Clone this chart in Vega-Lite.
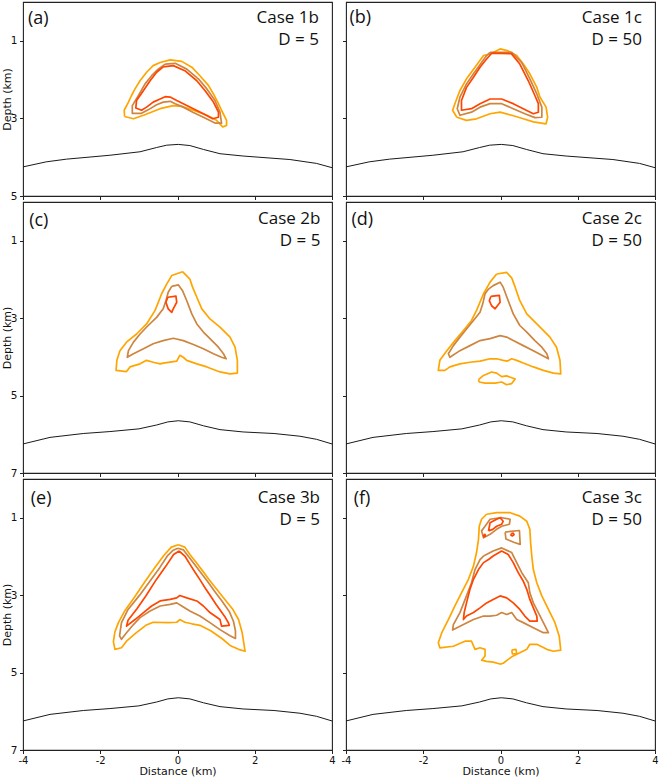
{
  "$schema": "https://vega.github.io/schema/vega-lite/v6.json",
  "padding": {"left": 0, "top": 1, "right": 2, "bottom": 0},
  "background": "white",
  "config": {
    "view": {"stroke": "#222222", "strokeWidth": 1.1},
    "axis": {"domain": false, "grid": false, "ticks": true, "tickColor": "#222222", "tickSize": 3.5, "tickWidth": 1, "labelFont": "DejaVu Sans", "labelFontSize": 10.5, "labelColor": "#111111", "labelPadding": 2.5, "labelFlush": false, "labelOverlap": false, "titleFont": "DejaVu Sans", "titleFontSize": 11, "titleFontWeight": "normal", "titleColor": "#111111"}
  },
  "datasets": {
    "surf1": [
      {"x": -4, "d": 4.25}, {"x": -3.4, "d": 4.12}, {"x": -2.87, "d": 4.05}, {"x": -1.75, "d": 3.95}, {"x": -0.97, "d": 3.86}, {"x": -0.54, "d": 3.75}, {"x": -0.28, "d": 3.69}, {"x": 0.02, "d": 3.67}, {"x": 0.32, "d": 3.70}, {"x": 0.67, "d": 3.80}, {"x": 1.10, "d": 3.91}, {"x": 1.70, "d": 3.97}, {"x": 2.91, "d": 4.06}, {"x": 3.60, "d": 4.16}, {"x": 4, "d": 4.27}
    ],
    "surf2": [
      {"x": -4, "d": 6.25}, {"x": -3.3, "d": 6.08}, {"x": -2.44, "d": 5.98}, {"x": -1.75, "d": 5.93}, {"x": -1.0, "d": 5.86}, {"x": -0.54, "d": 5.76}, {"x": -0.25, "d": 5.68}, {"x": 0.02, "d": 5.65}, {"x": 0.32, "d": 5.68}, {"x": 0.67, "d": 5.78}, {"x": 1.10, "d": 5.88}, {"x": 1.70, "d": 5.94}, {"x": 2.5, "d": 5.98}, {"x": 3.17, "d": 6.05}, {"x": 3.6, "d": 6.13}, {"x": 4, "d": 6.25}
    ],
    "a": [
      {"r":1,"c":"c1","x":-1.37,"d":2.95},{"r":1,"c":"c1","x":-1.14,"d":3.01},{"r":1,"c":"c1","x":-0.88,"d":2.92},{"r":1,"c":"c1","x":-0.45,"d":2.75},{"r":1,"c":"c1","x":-0.11,"d":2.67},{"r":1,"c":"c1","x":0.11,"d":2.69},{"r":1,"c":"c1","x":0.41,"d":2.79},{"r":1,"c":"c1","x":0.76,"d":2.92},{"r":1,"c":"c1","x":1.01,"d":3.05},{"r":1,"c":"c1","x":1.17,"d":3.22},{"r":1,"c":"c1","x":1.27,"d":3.18},{"r":1,"c":"c1","x":1.27,"d":3.05},{"r":1,"c":"c1","x":1.14,"d":2.79},{"r":1,"c":"c1","x":1.06,"d":2.62},{"r":1,"c":"c1","x":0.93,"d":2.37},{"r":1,"c":"c1","x":0.80,"d":2.15},{"r":1,"c":"c1","x":0.58,"d":1.90},{"r":1,"c":"c1","x":0.37,"d":1.68},{"r":1,"c":"c1","x":0.11,"d":1.53},{"r":1,"c":"c1","x":-0.19,"d":1.49},{"r":1,"c":"c1","x":-0.45,"d":1.56},{"r":1,"c":"c1","x":-0.63,"d":1.64},{"r":1,"c":"c1","x":-0.80,"d":1.81},{"r":1,"c":"c1","x":-0.97,"d":2.03},{"r":1,"c":"c1","x":-1.10,"d":2.24},{"r":1,"c":"c1","x":-1.19,"d":2.41},{"r":1,"c":"c1","x":-1.27,"d":2.58},{"r":1,"c":"c1","x":-1.38,"d":2.79},{"r":1,"c":"c1","x":-1.37,"d":2.95},
      {"r":2,"c":"c2","x":-0.32,"d":1.60},{"r":2,"c":"c2","x":-0.06,"d":1.58},{"r":2,"c":"c2","x":0.24,"d":1.73},{"r":2,"c":"c2","x":0.54,"d":1.98},{"r":2,"c":"c2","x":0.76,"d":2.24},{"r":2,"c":"c2","x":0.97,"d":2.54},{"r":2,"c":"c2","x":1.10,"d":2.84},{"r":2,"c":"c2","x":1.14,"d":3.12},{"r":2,"c":"c2","x":0.97,"d":3.12},{"r":2,"c":"c2","x":0.67,"d":2.97},{"r":2,"c":"c2","x":0.41,"d":2.85},{"r":2,"c":"c2","x":0.15,"d":2.71},{"r":2,"c":"c2","x":-0.06,"d":2.62},{"r":2,"c":"c2","x":-0.19,"d":2.56},{"r":2,"c":"c2","x":-0.37,"d":2.58},{"r":2,"c":"c2","x":-0.54,"d":2.65},{"r":2,"c":"c2","x":-0.76,"d":2.78},{"r":2,"c":"c2","x":-0.93,"d":2.87},{"r":2,"c":"c2","x":-1.17,"d":2.87},{"r":2,"c":"c2","x":-1.17,"d":2.67},{"r":2,"c":"c2","x":-1.01,"d":2.41},{"r":2,"c":"c2","x":-0.84,"d":2.11},{"r":2,"c":"c2","x":-0.67,"d":1.90},{"r":2,"c":"c2","x":-0.50,"d":1.73},{"r":2,"c":"c2","x":-0.32,"d":1.60},
      {"r":3,"c":"c3","x":-0.37,"d":1.67},{"r":3,"c":"c3","x":-0.11,"d":1.64},{"r":3,"c":"c3","x":0.19,"d":1.77},{"r":3,"c":"c3","x":0.50,"d":2.03},{"r":3,"c":"c3","x":0.71,"d":2.28},{"r":3,"c":"c3","x":0.93,"d":2.58},{"r":3,"c":"c3","x":1.06,"d":2.84},{"r":3,"c":"c3","x":1.06,"d":2.97},{"r":3,"c":"c3","x":0.91,"d":3.01},{"r":3,"c":"c3","x":0.67,"d":2.88},{"r":3,"c":"c3","x":0.41,"d":2.75},{"r":3,"c":"c3","x":0.15,"d":2.62},{"r":3,"c":"c3","x":-0.02,"d":2.54},{"r":3,"c":"c3","x":-0.19,"d":2.45},{"r":3,"c":"c3","x":-0.32,"d":2.44},{"r":3,"c":"c3","x":-0.45,"d":2.50},{"r":3,"c":"c3","x":-0.63,"d":2.58},{"r":3,"c":"c3","x":-0.80,"d":2.71},{"r":3,"c":"c3","x":-0.93,"d":2.79},{"r":3,"c":"c3","x":-1.08,"d":2.73},{"r":3,"c":"c3","x":-1.06,"d":2.54},{"r":3,"c":"c3","x":-0.88,"d":2.28},{"r":3,"c":"c3","x":-0.71,"d":2.03},{"r":3,"c":"c3","x":-0.54,"d":1.81},{"r":3,"c":"c3","x":-0.37,"d":1.67}
    ],
    "b": [
      {"r":1,"c":"c1","x":-1.13,"d":2.97},{"r":1,"c":"c1","x":-0.88,"d":3.05},{"r":1,"c":"c1","x":-0.62,"d":3.01},{"r":1,"c":"c1","x":-0.27,"d":2.88},{"r":1,"c":"c1","x":-0.01,"d":2.84},{"r":1,"c":"c1","x":0.29,"d":2.92},{"r":1,"c":"c1","x":0.59,"d":3.01},{"r":1,"c":"c1","x":0.85,"d":3.09},{"r":1,"c":"c1","x":1.18,"d":3.14},{"r":1,"c":"c1","x":1.22,"d":2.97},{"r":1,"c":"c1","x":1.18,"d":2.71},{"r":1,"c":"c1","x":1.02,"d":2.45},{"r":1,"c":"c1","x":0.94,"d":2.20},{"r":1,"c":"c1","x":0.76,"d":1.85},{"r":1,"c":"c1","x":0.59,"d":1.60},{"r":1,"c":"c1","x":0.42,"d":1.38},{"r":1,"c":"c1","x":0.20,"d":1.26},{"r":1,"c":"c1","x":-0.01,"d":1.21},{"r":1,"c":"c1","x":-0.27,"d":1.34},{"r":1,"c":"c1","x":-0.44,"d":1.38},{"r":1,"c":"c1","x":-0.66,"d":1.68},{"r":1,"c":"c1","x":-0.88,"d":1.98},{"r":1,"c":"c1","x":-1.05,"d":2.28},{"r":1,"c":"c1","x":-1.15,"d":2.54},{"r":1,"c":"c1","x":-1.24,"d":2.79},{"r":1,"c":"c1","x":-1.13,"d":2.97},
      {"r":2,"c":"c2","x":-0.27,"d":1.30},{"r":2,"c":"c2","x":0.29,"d":1.30},{"r":2,"c":"c2","x":0.55,"d":1.56},{"r":2,"c":"c2","x":0.76,"d":1.98},{"r":2,"c":"c2","x":0.94,"d":2.37},{"r":2,"c":"c2","x":1.07,"d":2.71},{"r":2,"c":"c2","x":1.07,"d":2.97},{"r":2,"c":"c2","x":0.89,"d":2.98},{"r":2,"c":"c2","x":0.63,"d":2.88},{"r":2,"c":"c2","x":0.33,"d":2.75},{"r":2,"c":"c2","x":0.03,"d":2.62},{"r":2,"c":"c2","x":-0.27,"d":2.62},{"r":2,"c":"c2","x":-0.53,"d":2.71},{"r":2,"c":"c2","x":-0.75,"d":2.84},{"r":2,"c":"c2","x":-1.05,"d":2.92},{"r":2,"c":"c2","x":-1.12,"d":2.75},{"r":2,"c":"c2","x":-1.05,"d":2.45},{"r":2,"c":"c2","x":-0.88,"d":2.11},{"r":2,"c":"c2","x":-0.70,"d":1.85},{"r":2,"c":"c2","x":-0.49,"d":1.56},{"r":2,"c":"c2","x":-0.36,"d":1.38},{"r":2,"c":"c2","x":-0.27,"d":1.30},
      {"r":3,"c":"c3","x":-0.23,"d":1.32},{"r":3,"c":"c3","x":0.28,"d":1.33},{"r":3,"c":"c3","x":0.50,"d":1.60},{"r":3,"c":"c3","x":0.72,"d":2.03},{"r":3,"c":"c3","x":0.89,"d":2.41},{"r":3,"c":"c3","x":0.98,"d":2.62},{"r":3,"c":"c3","x":0.98,"d":2.84},{"r":3,"c":"c3","x":0.85,"d":2.88},{"r":3,"c":"c3","x":0.59,"d":2.75},{"r":3,"c":"c3","x":0.33,"d":2.62},{"r":3,"c":"c3","x":0.03,"d":2.50},{"r":3,"c":"c3","x":-0.27,"d":2.50},{"r":3,"c":"c3","x":-0.53,"d":2.62},{"r":3,"c":"c3","x":-0.75,"d":2.75},{"r":3,"c":"c3","x":-1.01,"d":2.79},{"r":3,"c":"c3","x":-1.01,"d":2.54},{"r":3,"c":"c3","x":-0.88,"d":2.20},{"r":3,"c":"c3","x":-0.70,"d":1.94},{"r":3,"c":"c3","x":-0.53,"d":1.68},{"r":3,"c":"c3","x":-0.36,"d":1.47},{"r":3,"c":"c3","x":-0.23,"d":1.32}
    ],
    "c": [
      {"r":1,"c":"c1","x":0.13,"d":1.80},{"r":1,"c":"c1","x":0.32,"d":1.99},{"r":1,"c":"c1","x":0.39,"d":2.20},{"r":1,"c":"c1","x":0.50,"d":2.46},{"r":1,"c":"c1","x":0.63,"d":2.76},{"r":1,"c":"c1","x":0.84,"d":3.02},{"r":1,"c":"c1","x":1.10,"d":3.23},{"r":1,"c":"c1","x":1.36,"d":3.49},{"r":1,"c":"c1","x":1.49,"d":3.75},{"r":1,"c":"c1","x":1.55,"d":4.09},{"r":1,"c":"c1","x":1.55,"d":4.42},{"r":1,"c":"c1","x":1.36,"d":4.44},{"r":1,"c":"c1","x":1.10,"d":4.39},{"r":1,"c":"c1","x":0.76,"d":4.26},{"r":1,"c":"c1","x":0.50,"d":4.18},{"r":1,"c":"c1","x":0.24,"d":4.09},{"r":1,"c":"c1","x":0.15,"d":4.01},{"r":1,"c":"c1","x":0.06,"d":3.96},{"r":1,"c":"c1","x":-0.02,"d":4.11},{"r":1,"c":"c1","x":-0.37,"d":4.16},{"r":1,"c":"c1","x":-0.45,"d":4.18},{"r":1,"c":"c1","x":-0.63,"d":4.14},{"r":1,"c":"c1","x":-0.80,"d":4.09},{"r":1,"c":"c1","x":-0.97,"d":4.18},{"r":1,"c":"c1","x":-1.23,"d":4.26},{"r":1,"c":"c1","x":-1.32,"d":4.38},{"r":1,"c":"c1","x":-1.59,"d":4.35},{"r":1,"c":"c1","x":-1.57,"d":4.09},{"r":1,"c":"c1","x":-1.49,"d":3.84},{"r":1,"c":"c1","x":-1.32,"d":3.62},{"r":1,"c":"c1","x":-1.06,"d":3.41},{"r":1,"c":"c1","x":-0.80,"d":3.15},{"r":1,"c":"c1","x":-0.58,"d":2.80},{"r":1,"c":"c1","x":-0.41,"d":2.37},{"r":1,"c":"c1","x":-0.28,"d":2.12},{"r":1,"c":"c1","x":-0.15,"d":1.90},{"r":1,"c":"c1","x":0.13,"d":1.80},
      {"r":2,"c":"c2","x":-0.15,"d":2.18},{"r":2,"c":"c2","x":0.02,"d":2.14},{"r":2,"c":"c2","x":0.13,"d":2.29},{"r":2,"c":"c2","x":0.24,"d":2.55},{"r":2,"c":"c2","x":0.37,"d":2.89},{"r":2,"c":"c2","x":0.50,"d":3.15},{"r":2,"c":"c2","x":0.67,"d":3.36},{"r":2,"c":"c2","x":0.84,"d":3.53},{"r":2,"c":"c2","x":1.06,"d":3.75},{"r":2,"c":"c2","x":1.19,"d":3.92},{"r":2,"c":"c2","x":1.26,"d":4.05},{"r":2,"c":"c2","x":1.14,"d":4.01},{"r":2,"c":"c2","x":0.93,"d":3.92},{"r":2,"c":"c2","x":0.67,"d":3.79},{"r":2,"c":"c2","x":0.41,"d":3.68},{"r":2,"c":"c2","x":0.15,"d":3.58},{"r":2,"c":"c2","x":-0.11,"d":3.52},{"r":2,"c":"c2","x":-0.37,"d":3.58},{"r":2,"c":"c2","x":-0.63,"d":3.66},{"r":2,"c":"c2","x":-0.88,"d":3.79},{"r":2,"c":"c2","x":-1.14,"d":3.92},{"r":2,"c":"c2","x":-1.30,"d":4.01},{"r":2,"c":"c2","x":-1.27,"d":3.84},{"r":2,"c":"c2","x":-1.14,"d":3.62},{"r":2,"c":"c2","x":-0.97,"d":3.41},{"r":2,"c":"c2","x":-0.76,"d":3.19},{"r":2,"c":"c2","x":-0.54,"d":2.98},{"r":2,"c":"c2","x":-0.37,"d":2.76},{"r":2,"c":"c2","x":-0.30,"d":2.55},{"r":2,"c":"c2","x":-0.24,"d":2.33},{"r":2,"c":"c2","x":-0.15,"d":2.18},
      {"r":3,"c":"c3","x":-0.25,"d":2.46},{"r":3,"c":"c3","x":-0.04,"d":2.43},{"r":3,"c":"c3","x":-0.02,"d":2.59},{"r":3,"c":"c3","x":-0.11,"d":2.76},{"r":3,"c":"c3","x":-0.15,"d":2.85},{"r":3,"c":"c3","x":-0.24,"d":2.76},{"r":3,"c":"c3","x":-0.30,"d":2.59},{"r":3,"c":"c3","x":-0.25,"d":2.46}
    ],
    "d": [
      {"r":1,"c":"c1","x":-0.10,"d":1.86},{"r":1,"c":"c1","x":0.16,"d":1.82},{"r":1,"c":"c1","x":0.29,"d":1.96},{"r":1,"c":"c1","x":0.38,"d":2.20},{"r":1,"c":"c1","x":0.50,"d":2.55},{"r":1,"c":"c1","x":0.68,"d":2.89},{"r":1,"c":"c1","x":0.94,"d":3.15},{"r":1,"c":"c1","x":1.28,"d":3.49},{"r":1,"c":"c1","x":1.45,"d":3.75},{"r":1,"c":"c1","x":1.54,"d":4.09},{"r":1,"c":"c1","x":1.56,"d":4.44},{"r":1,"c":"c1","x":1.37,"d":4.42},{"r":1,"c":"c1","x":1.11,"d":4.35},{"r":1,"c":"c1","x":0.85,"d":4.26},{"r":1,"c":"c1","x":0.59,"d":4.16},{"r":1,"c":"c1","x":0.42,"d":4.09},{"r":1,"c":"c1","x":0.29,"d":4.05},{"r":1,"c":"c1","x":0.18,"d":4.11},{"r":1,"c":"c1","x":0.07,"d":4.09},{"r":1,"c":"c1","x":-0.10,"d":4.05},{"r":1,"c":"c1","x":-0.27,"d":4.05},{"r":1,"c":"c1","x":-0.53,"d":4.11},{"r":1,"c":"c1","x":-0.79,"d":4.14},{"r":1,"c":"c1","x":-1.05,"d":4.18},{"r":1,"c":"c1","x":-1.31,"d":4.26},{"r":1,"c":"c1","x":-1.44,"d":4.35},{"r":1,"c":"c1","x":-1.61,"d":4.35},{"r":1,"c":"c1","x":-1.57,"d":4.09},{"r":1,"c":"c1","x":-1.39,"d":3.84},{"r":1,"c":"c1","x":-1.18,"d":3.58},{"r":1,"c":"c1","x":-0.96,"d":3.32},{"r":1,"c":"c1","x":-0.75,"d":3.06},{"r":1,"c":"c1","x":-0.62,"d":2.80},{"r":1,"c":"c1","x":-0.44,"d":2.37},{"r":1,"c":"c1","x":-0.27,"d":2.07},{"r":1,"c":"c1","x":-0.10,"d":1.86},
      {"r":2,"c":"c1","x":-0.57,"d":4.59},{"r":2,"c":"c1","x":-0.44,"d":4.48},{"r":2,"c":"c1","x":-0.23,"d":4.39},{"r":2,"c":"c1","x":-0.10,"d":4.42},{"r":2,"c":"c1","x":0.03,"d":4.51},{"r":2,"c":"c1","x":0.16,"d":4.49},{"r":2,"c":"c1","x":0.38,"d":4.57},{"r":2,"c":"c1","x":0.29,"d":4.69},{"r":2,"c":"c1","x":0.16,"d":4.72},{"r":2,"c":"c1","x":0.03,"d":4.65},{"r":2,"c":"c1","x":-0.14,"d":4.68},{"r":2,"c":"c1","x":-0.40,"d":4.68},{"r":2,"c":"c1","x":-0.55,"d":4.65},{"r":2,"c":"c1","x":-0.57,"d":4.59},
      {"r":3,"c":"c2","x":-0.19,"d":2.16},{"r":3,"c":"c2","x":-0.01,"d":2.07},{"r":3,"c":"c2","x":0.07,"d":2.20},{"r":3,"c":"c2","x":0.20,"d":2.55},{"r":3,"c":"c2","x":0.33,"d":2.89},{"r":3,"c":"c2","x":0.50,"d":3.19},{"r":3,"c":"c2","x":0.68,"d":3.36},{"r":3,"c":"c2","x":0.89,"d":3.58},{"r":3,"c":"c2","x":1.07,"d":3.75},{"r":3,"c":"c2","x":1.20,"d":3.92},{"r":3,"c":"c2","x":1.24,"d":4.05},{"r":3,"c":"c2","x":1.07,"d":3.96},{"r":3,"c":"c2","x":0.85,"d":3.84},{"r":3,"c":"c2","x":0.59,"d":3.71},{"r":3,"c":"c2","x":0.33,"d":3.58},{"r":3,"c":"c2","x":0.16,"d":3.49},{"r":3,"c":"c2","x":-0.01,"d":3.45},{"r":3,"c":"c2","x":-0.27,"d":3.53},{"r":3,"c":"c2","x":-0.53,"d":3.58},{"r":3,"c":"c2","x":-0.79,"d":3.71},{"r":3,"c":"c2","x":-1.05,"d":3.84},{"r":3,"c":"c2","x":-1.31,"d":4.01},{"r":3,"c":"c2","x":-1.35,"d":3.92},{"r":3,"c":"c2","x":-1.22,"d":3.71},{"r":3,"c":"c2","x":-1.05,"d":3.49},{"r":3,"c":"c2","x":-0.88,"d":3.28},{"r":3,"c":"c2","x":-0.70,"d":3.06},{"r":3,"c":"c2","x":-0.53,"d":2.85},{"r":3,"c":"c2","x":-0.46,"d":2.63},{"r":3,"c":"c2","x":-0.40,"d":2.37},{"r":3,"c":"c2","x":-0.31,"d":2.25},{"r":3,"c":"c2","x":-0.19,"d":2.16},
      {"r":4,"c":"c3","x":-0.25,"d":2.44},{"r":4,"c":"c3","x":-0.03,"d":2.41},{"r":4,"c":"c3","x":-0.01,"d":2.59},{"r":4,"c":"c3","x":-0.14,"d":2.76},{"r":4,"c":"c3","x":-0.23,"d":2.68},{"r":4,"c":"c3","x":-0.29,"d":2.55},{"r":4,"c":"c3","x":-0.25,"d":2.44}
    ],
    "e": [
      {"r":1,"c":"c1","x":0.02,"d":1.70},{"r":1,"c":"c1","x":0.19,"d":1.76},{"r":1,"c":"c1","x":0.32,"d":1.95},{"r":1,"c":"c1","x":0.48,"d":2.15},{"r":1,"c":"c1","x":0.64,"d":2.36},{"r":1,"c":"c1","x":0.81,"d":2.59},{"r":1,"c":"c1","x":1.00,"d":2.83},{"r":1,"c":"c1","x":1.20,"d":3.08},{"r":1,"c":"c1","x":1.42,"d":3.35},{"r":1,"c":"c1","x":1.58,"d":3.63},{"r":1,"c":"c1","x":1.67,"d":3.95},{"r":1,"c":"c1","x":1.71,"d":4.20},{"r":1,"c":"c1","x":1.75,"d":4.45},{"r":1,"c":"c1","x":1.58,"d":4.40},{"r":1,"c":"c1","x":1.36,"d":4.30},{"r":1,"c":"c1","x":1.15,"d":4.12},{"r":1,"c":"c1","x":0.86,"d":3.92},{"r":1,"c":"c1","x":0.58,"d":3.78},{"r":1,"c":"c1","x":0.37,"d":3.74},{"r":1,"c":"c1","x":0.19,"d":3.70},{"r":1,"c":"c1","x":0.06,"d":3.63},{"r":1,"c":"c1","x":-0.02,"d":3.70},{"r":1,"c":"c1","x":-0.24,"d":3.71},{"r":1,"c":"c1","x":-0.63,"d":3.70},{"r":1,"c":"c1","x":-0.82,"d":3.78},{"r":1,"c":"c1","x":-1.08,"d":3.98},{"r":1,"c":"c1","x":-1.32,"d":4.19},{"r":1,"c":"c1","x":-1.45,"d":4.36},{"r":1,"c":"c1","x":-1.62,"d":4.40},{"r":1,"c":"c1","x":-1.66,"d":4.20},{"r":1,"c":"c1","x":-1.62,"d":3.95},{"r":1,"c":"c1","x":-1.53,"d":3.71},{"r":1,"c":"c1","x":-1.38,"d":3.43},{"r":1,"c":"c1","x":-1.11,"d":3.05},{"r":1,"c":"c1","x":-0.84,"d":2.65},{"r":1,"c":"c1","x":-0.58,"d":2.28},{"r":1,"c":"c1","x":-0.35,"d":1.97},{"r":1,"c":"c1","x":-0.16,"d":1.76},{"r":1,"c":"c1","x":0.02,"d":1.70},
      {"r":2,"c":"c2","x":0.01,"d":1.79},{"r":2,"c":"c2","x":0.15,"d":1.83},{"r":2,"c":"c2","x":0.30,"d":2.02},{"r":2,"c":"c2","x":0.46,"d":2.23},{"r":2,"c":"c2","x":0.62,"d":2.44},{"r":2,"c":"c2","x":0.78,"d":2.65},{"r":2,"c":"c2","x":0.96,"d":2.90},{"r":2,"c":"c2","x":1.15,"d":3.15},{"r":2,"c":"c2","x":1.34,"d":3.42},{"r":2,"c":"c2","x":1.45,"d":3.68},{"r":2,"c":"c2","x":1.50,"d":3.92},{"r":2,"c":"c2","x":1.50,"d":4.12},{"r":2,"c":"c2","x":1.36,"d":4.05},{"r":2,"c":"c2","x":1.10,"d":3.89},{"r":2,"c":"c2","x":0.84,"d":3.71},{"r":2,"c":"c2","x":0.58,"d":3.54},{"r":2,"c":"c2","x":0.32,"d":3.41},{"r":2,"c":"c2","x":0.11,"d":3.28},{"r":2,"c":"c2","x":-0.02,"d":3.20},{"r":2,"c":"c2","x":-0.19,"d":3.24},{"r":2,"c":"c2","x":-0.45,"d":3.28},{"r":2,"c":"c2","x":-0.71,"d":3.41},{"r":2,"c":"c2","x":-0.97,"d":3.58},{"r":2,"c":"c2","x":-1.14,"d":3.76},{"r":2,"c":"c2","x":-1.32,"d":3.97},{"r":2,"c":"c2","x":-1.45,"d":4.14},{"r":2,"c":"c2","x":-1.50,"d":4.05},{"r":2,"c":"c2","x":-1.45,"d":3.71},{"r":2,"c":"c2","x":-1.28,"d":3.37},{"r":2,"c":"c2","x":-0.98,"d":3.00},{"r":2,"c":"c2","x":-0.72,"d":2.65},{"r":2,"c":"c2","x":-0.46,"d":2.29},{"r":2,"c":"c2","x":-0.25,"d":1.97},{"r":2,"c":"c2","x":-0.11,"d":1.84},{"r":2,"c":"c2","x":0.01,"d":1.79},
      {"r":3,"c":"c3","x":0.04,"d":1.86},{"r":3,"c":"c3","x":0.19,"d":1.99},{"r":3,"c":"c3","x":0.32,"d":2.20},{"r":3,"c":"c3","x":0.45,"d":2.40},{"r":3,"c":"c3","x":0.58,"d":2.60},{"r":3,"c":"c3","x":0.72,"d":2.82},{"r":3,"c":"c3","x":0.86,"d":3.03},{"r":3,"c":"c3","x":1.00,"d":3.24},{"r":3,"c":"c3","x":1.13,"d":3.42},{"r":3,"c":"c3","x":1.24,"d":3.58},{"r":3,"c":"c3","x":1.32,"d":3.72},{"r":3,"c":"c3","x":1.34,"d":3.78},{"r":3,"c":"c3","x":1.14,"d":3.80},{"r":3,"c":"c3","x":1.10,"d":3.63},{"r":3,"c":"c3","x":0.84,"d":3.45},{"r":3,"c":"c3","x":0.67,"d":3.28},{"r":3,"c":"c3","x":0.50,"d":3.15},{"r":3,"c":"c3","x":0.24,"d":3.07},{"r":3,"c":"c3","x":0.06,"d":3.01},{"r":3,"c":"c3","x":-0.02,"d":3.07},{"r":3,"c":"c3","x":-0.19,"d":3.11},{"r":3,"c":"c3","x":-0.45,"d":3.15},{"r":3,"c":"c3","x":-0.67,"d":3.28},{"r":3,"c":"c3","x":-0.88,"d":3.45},{"r":3,"c":"c3","x":-1.10,"d":3.63},{"r":3,"c":"c3","x":-1.27,"d":3.76},{"r":3,"c":"c3","x":-1.32,"d":3.80},{"r":3,"c":"c3","x":-1.28,"d":3.65},{"r":3,"c":"c3","x":-1.05,"d":3.35},{"r":3,"c":"c3","x":-0.82,"d":3.02},{"r":3,"c":"c3","x":-0.55,"d":2.60},{"r":3,"c":"c3","x":-0.30,"d":2.25},{"r":3,"c":"c3","x":-0.10,"d":1.95},{"r":3,"c":"c3","x":0.04,"d":1.86}
    ],
    "f": [
      {"r":1,"c":"c1","x":-0.36,"d":0.91},{"r":1,"c":"c1","x":-0.10,"d":0.87},{"r":1,"c":"c1","x":0.25,"d":0.87},{"r":1,"c":"c1","x":0.50,"d":0.96},{"r":1,"c":"c1","x":0.68,"d":1.09},{"r":1,"c":"c1","x":0.76,"d":1.30},{"r":1,"c":"c1","x":0.78,"d":1.65},{"r":1,"c":"c1","x":0.81,"d":1.99},{"r":1,"c":"c1","x":0.85,"d":2.34},{"r":1,"c":"c1","x":0.94,"d":2.68},{"r":1,"c":"c1","x":1.07,"d":3.02},{"r":1,"c":"c1","x":1.24,"d":3.37},{"r":1,"c":"c1","x":1.41,"d":3.71},{"r":1,"c":"c1","x":1.52,"d":4.06},{"r":1,"c":"c1","x":1.56,"d":4.42},{"r":1,"c":"c1","x":1.37,"d":4.45},{"r":1,"c":"c1","x":1.20,"d":4.40},{"r":1,"c":"c1","x":0.94,"d":4.27},{"r":1,"c":"c1","x":0.76,"d":4.27},{"r":1,"c":"c1","x":0.68,"d":4.40},{"r":1,"c":"c1","x":0.50,"d":4.49},{"r":1,"c":"c1","x":0.33,"d":4.57},{"r":1,"c":"c1","x":0.20,"d":4.66},{"r":1,"c":"c1","x":0.07,"d":4.76},{"r":1,"c":"c1","x":-0.01,"d":4.78},{"r":1,"c":"c1","x":-0.19,"d":4.73},{"r":1,"c":"c1","x":-0.36,"d":4.71},{"r":1,"c":"c1","x":-0.49,"d":4.68},{"r":1,"c":"c1","x":-0.40,"d":4.57},{"r":1,"c":"c1","x":-0.40,"d":4.40},{"r":1,"c":"c1","x":-0.53,"d":4.36},{"r":1,"c":"c1","x":-0.66,"d":4.40},{"r":1,"c":"c1","x":-0.75,"d":4.19},{"r":1,"c":"c1","x":-0.92,"d":4.19},{"r":1,"c":"c1","x":-1.22,"d":4.32},{"r":1,"c":"c1","x":-1.57,"d":4.36},{"r":1,"c":"c1","x":-1.61,"d":4.23},{"r":1,"c":"c1","x":-1.52,"d":3.97},{"r":1,"c":"c1","x":-1.35,"d":3.63},{"r":1,"c":"c1","x":-1.18,"d":3.28},{"r":1,"c":"c1","x":-1.01,"d":2.94},{"r":1,"c":"c1","x":-0.83,"d":2.59},{"r":1,"c":"c1","x":-0.70,"d":2.25},{"r":1,"c":"c1","x":-0.62,"d":1.90},{"r":1,"c":"c1","x":-0.57,"d":1.56},{"r":1,"c":"c1","x":-0.55,"d":1.22},{"r":1,"c":"c1","x":-0.49,"d":1.04},{"r":1,"c":"c1","x":-0.36,"d":0.91},
      {"r":2,"c":"c1","x":0.29,"d":4.42},{"r":2,"c":"c1","x":0.40,"d":4.40},{"r":2,"c":"c1","x":0.42,"d":4.51},{"r":2,"c":"c1","x":0.31,"d":4.52},{"r":2,"c":"c1","x":0.29,"d":4.42},
      {"r":3,"c":"c2","x":-0.40,"d":1.22},{"r":3,"c":"c2","x":-0.27,"d":1.04},{"r":3,"c":"c2","x":0.03,"d":1.00},{"r":3,"c":"c2","x":0.25,"d":1.04},{"r":3,"c":"c2","x":0.23,"d":1.17},{"r":3,"c":"c2","x":0.03,"d":1.22},{"r":3,"c":"c2","x":-0.10,"d":1.30},{"r":3,"c":"c2","x":-0.27,"d":1.43},{"r":3,"c":"c2","x":-0.44,"d":1.52},{"r":3,"c":"c2","x":-0.49,"d":1.34},{"r":3,"c":"c2","x":-0.40,"d":1.22},
      {"r":4,"c":"c2","x":0.12,"d":1.37},{"r":4,"c":"c2","x":0.49,"d":1.33},{"r":4,"c":"c2","x":0.51,"d":1.69},{"r":4,"c":"c2","x":0.36,"d":1.64},{"r":4,"c":"c2","x":0.14,"d":1.55},{"r":4,"c":"c2","x":0.12,"d":1.37},
      {"r":5,"c":"c2","x":-0.44,"d":1.99},{"r":5,"c":"c2","x":-0.19,"d":1.86},{"r":5,"c":"c2","x":0.03,"d":1.78},{"r":5,"c":"c2","x":0.29,"d":1.90},{"r":5,"c":"c2","x":0.42,"d":2.16},{"r":5,"c":"c2","x":0.55,"d":2.42},{"r":5,"c":"c2","x":0.72,"d":2.68},{"r":5,"c":"c2","x":0.76,"d":2.94},{"r":5,"c":"c2","x":0.85,"d":3.20},{"r":5,"c":"c2","x":0.98,"d":3.45},{"r":5,"c":"c2","x":1.11,"d":3.71},{"r":5,"c":"c2","x":1.24,"d":3.97},{"r":5,"c":"c2","x":1.11,"d":3.97},{"r":5,"c":"c2","x":0.85,"d":3.84},{"r":5,"c":"c2","x":0.59,"d":3.71},{"r":5,"c":"c2","x":0.42,"d":3.63},{"r":5,"c":"c2","x":0.29,"d":3.45},{"r":5,"c":"c2","x":0.16,"d":3.50},{"r":5,"c":"c2","x":0.03,"d":3.45},{"r":5,"c":"c2","x":-0.10,"d":3.52},{"r":5,"c":"c2","x":-0.27,"d":3.54},{"r":5,"c":"c2","x":-0.44,"d":3.54},{"r":5,"c":"c2","x":-0.70,"d":3.63},{"r":5,"c":"c2","x":-0.96,"d":3.76},{"r":5,"c":"c2","x":-1.24,"d":3.90},{"r":5,"c":"c2","x":-1.22,"d":3.76},{"r":5,"c":"c2","x":-1.05,"d":3.45},{"r":5,"c":"c2","x":-0.88,"d":3.02},{"r":5,"c":"c2","x":-0.75,"d":2.68},{"r":5,"c":"c2","x":-0.66,"d":2.34},{"r":5,"c":"c2","x":-0.53,"d":2.08},{"r":5,"c":"c2","x":-0.44,"d":1.99},
      {"r":6,"c":"c3","x":-0.31,"d":1.34},{"r":6,"c":"c3","x":-0.27,"d":1.13},{"r":6,"c":"c3","x":-0.10,"d":1.04},{"r":6,"c":"c3","x":-0.01,"d":1.00},{"r":6,"c":"c3","x":0.07,"d":1.09},{"r":6,"c":"c3","x":0.03,"d":1.17},{"r":6,"c":"c3","x":-0.10,"d":1.22},{"r":6,"c":"c3","x":-0.20,"d":1.30},{"r":6,"c":"c3","x":-0.31,"d":1.34},
      {"r":7,"c":"c3","x":-0.44,"d":1.44},{"r":7,"c":"c3","x":-0.40,"d":1.43},{"r":7,"c":"c3","x":-0.39,"d":1.47},{"r":7,"c":"c3","x":-0.43,"d":1.49},{"r":7,"c":"c3","x":-0.44,"d":1.44},
      {"r":8,"c":"c3","x":0.28,"d":1.41},{"r":8,"c":"c3","x":0.33,"d":1.40},{"r":8,"c":"c3","x":0.35,"d":1.44},{"r":8,"c":"c3","x":0.31,"d":1.47},{"r":8,"c":"c3","x":0.27,"d":1.45},{"r":8,"c":"c3","x":0.28,"d":1.41},
      {"r":9,"c":"c3","x":-0.19,"d":1.99},{"r":9,"c":"c3","x":0.03,"d":1.86},{"r":9,"c":"c3","x":0.20,"d":1.95},{"r":9,"c":"c3","x":0.33,"d":2.16},{"r":9,"c":"c3","x":0.46,"d":2.42},{"r":9,"c":"c3","x":0.59,"d":2.64},{"r":9,"c":"c3","x":0.68,"d":2.85},{"r":9,"c":"c3","x":0.76,"d":3.11},{"r":9,"c":"c3","x":0.85,"d":3.33},{"r":9,"c":"c3","x":0.94,"d":3.54},{"r":9,"c":"c3","x":0.95,"d":3.67},{"r":9,"c":"c3","x":0.76,"d":3.67},{"r":9,"c":"c3","x":0.63,"d":3.54},{"r":9,"c":"c3","x":0.50,"d":3.37},{"r":9,"c":"c3","x":0.33,"d":3.20},{"r":9,"c":"c3","x":0.16,"d":3.07},{"r":9,"c":"c3","x":-0.01,"d":3.02},{"r":9,"c":"c3","x":-0.19,"d":3.11},{"r":9,"c":"c3","x":-0.36,"d":3.20},{"r":9,"c":"c3","x":-0.53,"d":3.33},{"r":9,"c":"c3","x":-0.70,"d":3.45},{"r":9,"c":"c3","x":-0.88,"d":3.54},{"r":9,"c":"c3","x":-0.96,"d":3.63},{"r":9,"c":"c3","x":-0.94,"d":3.45},{"r":9,"c":"c3","x":-0.88,"d":3.20},{"r":9,"c":"c3","x":-0.79,"d":2.85},{"r":9,"c":"c3","x":-0.70,"d":2.59},{"r":9,"c":"c3","x":-0.57,"d":2.34},{"r":9,"c":"c3","x":-0.44,"d":2.16},{"r":9,"c":"c3","x":-0.31,"d":2.08},{"r":9,"c":"c3","x":-0.19,"d":1.99}
    ]
  },
  "columns": 2,
  "spacing": {"row": 6, "column": 14},
  "bounds": "flush",
  "concat": [
    {
      "width": 309, "height": 194,
      "encoding": {
        "x": {"field": "x", "type": "quantitative", "scale": {"domain": [-4, 4], "nice": false, "zero": false}, "axis": {"values": [-4, -2, 0, 2, 4], "labels": false, "title": null}},
        "y": {"field": "d", "type": "quantitative", "scale": {"domain": [0, 5], "reverse": true, "nice": false, "zero": false}, "axis": {"values": [1, 3, 5], "title": "Depth (km)", "titlePadding": -1.7}}
      },
      "layer": [
        {"data": {"name": "surf1"}, "mark": {"type": "line", "color": "#1a1a1a", "strokeWidth": 1}},
        {"data": {"name": "a"}, "mark": {"type": "line", "strokeWidth": 1.7, "strokeJoin": "round"},
         "encoding": {
           "color": {"field": "c", "type": "nominal", "scale": {"domain": ["c1", "c2", "c3"], "range": ["#FFA500", "#CD853F", "#FF4500"]}, "legend": null},
           "detail": {"field": "r", "type": "nominal"},
           "order": {"value": null}}},
        {"data": {"values": [{"x": -3.87, "d": 0.56}]}, "mark": {"type": "text", "align": "left", "baseline": "alphabetic", "font": "Open Sans", "fontSize": 18, "color": "#111111", "text": "(a)"}},
        {"data": {"values": [{"x": 3.66, "d": 0.55}]}, "mark": {"type": "text", "align": "right", "baseline": "alphabetic", "font": "Open Sans", "fontSize": 17, "lineHeight": 22, "color": "#111111", "text": ["Case 1b", "D = 5"]}}
      ]
    },
    {
      "width": 309, "height": 194,
      "encoding": {
        "x": {"field": "x", "type": "quantitative", "scale": {"domain": [-4, 4], "nice": false, "zero": false}, "axis": {"values": [-4, -2, 0, 2, 4], "labels": false, "title": null}},
        "y": {"field": "d", "type": "quantitative", "scale": {"domain": [0, 5], "reverse": true, "nice": false, "zero": false}, "axis": {"values": [1, 3, 5], "labels": false, "title": null}}
      },
      "layer": [
        {"data": {"name": "surf1"}, "mark": {"type": "line", "color": "#1a1a1a", "strokeWidth": 1}},
        {"data": {"name": "b"}, "mark": {"type": "line", "strokeWidth": 1.7, "strokeJoin": "round"},
         "encoding": {
           "color": {"field": "c", "type": "nominal", "scale": {"domain": ["c1", "c2", "c3"], "range": ["#FFA500", "#CD853F", "#FF4500"]}, "legend": null},
           "detail": {"field": "r", "type": "nominal"},
           "order": {"value": null}}},
        {"data": {"values": [{"x": -3.91, "d": 0.55}]}, "mark": {"type": "text", "align": "left", "baseline": "alphabetic", "font": "Open Sans", "fontSize": 18, "color": "#111111", "text": "(b)"}},
        {"data": {"values": [{"x": 3.66, "d": 0.53}]}, "mark": {"type": "text", "align": "right", "baseline": "alphabetic", "font": "Open Sans", "fontSize": 17, "lineHeight": 22, "color": "#111111", "text": ["Case 1c", "D = 50"]}}
      ]
    },
    {
      "width": 309, "height": 271,
      "encoding": {
        "x": {"field": "x", "type": "quantitative", "scale": {"domain": [-4, 4], "nice": false, "zero": false}, "axis": {"values": [-4, -2, 0, 2, 4], "labels": false, "title": null}},
        "y": {"field": "d", "type": "quantitative", "scale": {"domain": [0, 7], "reverse": true, "nice": false, "zero": false}, "axis": {"values": [1, 3, 5, 7], "title": "Depth (km)", "titlePadding": -1.7}}
      },
      "layer": [
        {"data": {"name": "surf2"}, "mark": {"type": "line", "color": "#1a1a1a", "strokeWidth": 1}},
        {"data": {"name": "c"}, "mark": {"type": "line", "strokeWidth": 1.7, "strokeJoin": "round"},
         "encoding": {
           "color": {"field": "c", "type": "nominal", "scale": {"domain": ["c1", "c2", "c3"], "range": ["#FFA500", "#CD853F", "#FF4500"]}, "legend": null},
           "detail": {"field": "r", "type": "nominal"},
           "order": {"value": null}}},
        {"data": {"values": [{"x": -3.84, "d": 0.62}]}, "mark": {"type": "text", "align": "left", "baseline": "alphabetic", "font": "Open Sans", "fontSize": 18, "color": "#111111", "text": "(c)"}},
        {"data": {"values": [{"x": 3.70, "d": 0.58}]}, "mark": {"type": "text", "align": "right", "baseline": "alphabetic", "font": "Open Sans", "fontSize": 17, "lineHeight": 22, "color": "#111111", "text": ["Case 2b", "D = 5"]}}
      ]
    },
    {
      "width": 309, "height": 271,
      "encoding": {
        "x": {"field": "x", "type": "quantitative", "scale": {"domain": [-4, 4], "nice": false, "zero": false}, "axis": {"values": [-4, -2, 0, 2, 4], "labels": false, "title": null}},
        "y": {"field": "d", "type": "quantitative", "scale": {"domain": [0, 7], "reverse": true, "nice": false, "zero": false}, "axis": {"values": [1, 3, 5, 7], "labels": false, "title": null}}
      },
      "layer": [
        {"data": {"name": "surf2"}, "mark": {"type": "line", "color": "#1a1a1a", "strokeWidth": 1}},
        {"data": {"name": "d"}, "mark": {"type": "line", "strokeWidth": 1.7, "strokeJoin": "round"},
         "encoding": {
           "color": {"field": "c", "type": "nominal", "scale": {"domain": ["c1", "c2", "c3"], "range": ["#FFA500", "#CD853F", "#FF4500"]}, "legend": null},
           "detail": {"field": "r", "type": "nominal"},
           "order": {"value": null}}},
        {"data": {"values": [{"x": -3.86, "d": 0.60}]}, "mark": {"type": "text", "align": "left", "baseline": "alphabetic", "font": "Open Sans", "fontSize": 18, "color": "#111111", "text": "(d)"}},
        {"data": {"values": [{"x": 3.66, "d": 0.57}]}, "mark": {"type": "text", "align": "right", "baseline": "alphabetic", "font": "Open Sans", "fontSize": 17, "lineHeight": 22, "color": "#111111", "text": ["Case 2c", "D = 50"]}}
      ]
    },
    {
      "width": 309, "height": 271,
      "encoding": {
        "x": {"field": "x", "type": "quantitative", "scale": {"domain": [-4, 4], "nice": false, "zero": false}, "axis": {"values": [-4, -2, 0, 2, 4], "title": "Distance (km)", "titlePadding": 0, "labelPadding": 1.5, "labelFontSize": 10, "labelExpr": "datum.value"}},
        "y": {"field": "d", "type": "quantitative", "scale": {"domain": [0, 7], "reverse": true, "nice": false, "zero": false}, "axis": {"values": [1, 3, 5, 7], "title": "Depth (km)", "titlePadding": -1.7}}
      },
      "layer": [
        {"data": {"name": "surf2"}, "mark": {"type": "line", "color": "#1a1a1a", "strokeWidth": 1}},
        {"data": {"name": "e"}, "mark": {"type": "line", "strokeWidth": 1.7, "strokeJoin": "round"},
         "encoding": {
           "color": {"field": "c", "type": "nominal", "scale": {"domain": ["c1", "c2", "c3"], "range": ["#FFA500", "#CD853F", "#FF4500"]}, "legend": null},
           "detail": {"field": "r", "type": "nominal"},
           "order": {"value": null}}},
        {"data": {"values": [{"x": -3.80, "d": 0.64}]}, "mark": {"type": "text", "align": "left", "baseline": "alphabetic", "font": "Open Sans", "fontSize": 18, "color": "#111111", "text": "(e)"}},
        {"data": {"values": [{"x": 3.69, "d": 0.63}]}, "mark": {"type": "text", "align": "right", "baseline": "alphabetic", "font": "Open Sans", "fontSize": 17, "lineHeight": 22, "color": "#111111", "text": ["Case 3b", "D = 5"]}}
      ]
    },
    {
      "width": 309, "height": 271,
      "encoding": {
        "x": {"field": "x", "type": "quantitative", "scale": {"domain": [-4, 4], "nice": false, "zero": false}, "axis": {"values": [-4, -2, 0, 2, 4], "title": "Distance (km)", "titlePadding": 0, "labelPadding": 1.5, "labelFontSize": 10, "labelExpr": "datum.value"}},
        "y": {"field": "d", "type": "quantitative", "scale": {"domain": [0, 7], "reverse": true, "nice": false, "zero": false}, "axis": {"values": [1, 3, 5, 7], "labels": false, "title": null}}
      },
      "layer": [
        {"data": {"name": "surf2"}, "mark": {"type": "line", "color": "#1a1a1a", "strokeWidth": 1}},
        {"data": {"name": "f"}, "mark": {"type": "line", "strokeWidth": 1.7, "strokeJoin": "round"},
         "encoding": {
           "color": {"field": "c", "type": "nominal", "scale": {"domain": ["c1", "c2", "c3"], "range": ["#FFA500", "#CD853F", "#FF4500"]}, "legend": null},
           "detail": {"field": "r", "type": "nominal"},
           "order": {"value": null}}},
        {"data": {"values": [{"x": -3.80, "d": 0.64}]}, "mark": {"type": "text", "align": "left", "baseline": "alphabetic", "font": "Open Sans", "fontSize": 18, "color": "#111111", "text": "(f)"}},
        {"data": {"values": [{"x": 3.66, "d": 0.61}]}, "mark": {"type": "text", "align": "right", "baseline": "alphabetic", "font": "Open Sans", "fontSize": 17, "lineHeight": 22, "color": "#111111", "text": ["Case 3c", "D = 50"]}}
      ]
    }
  ]
}
